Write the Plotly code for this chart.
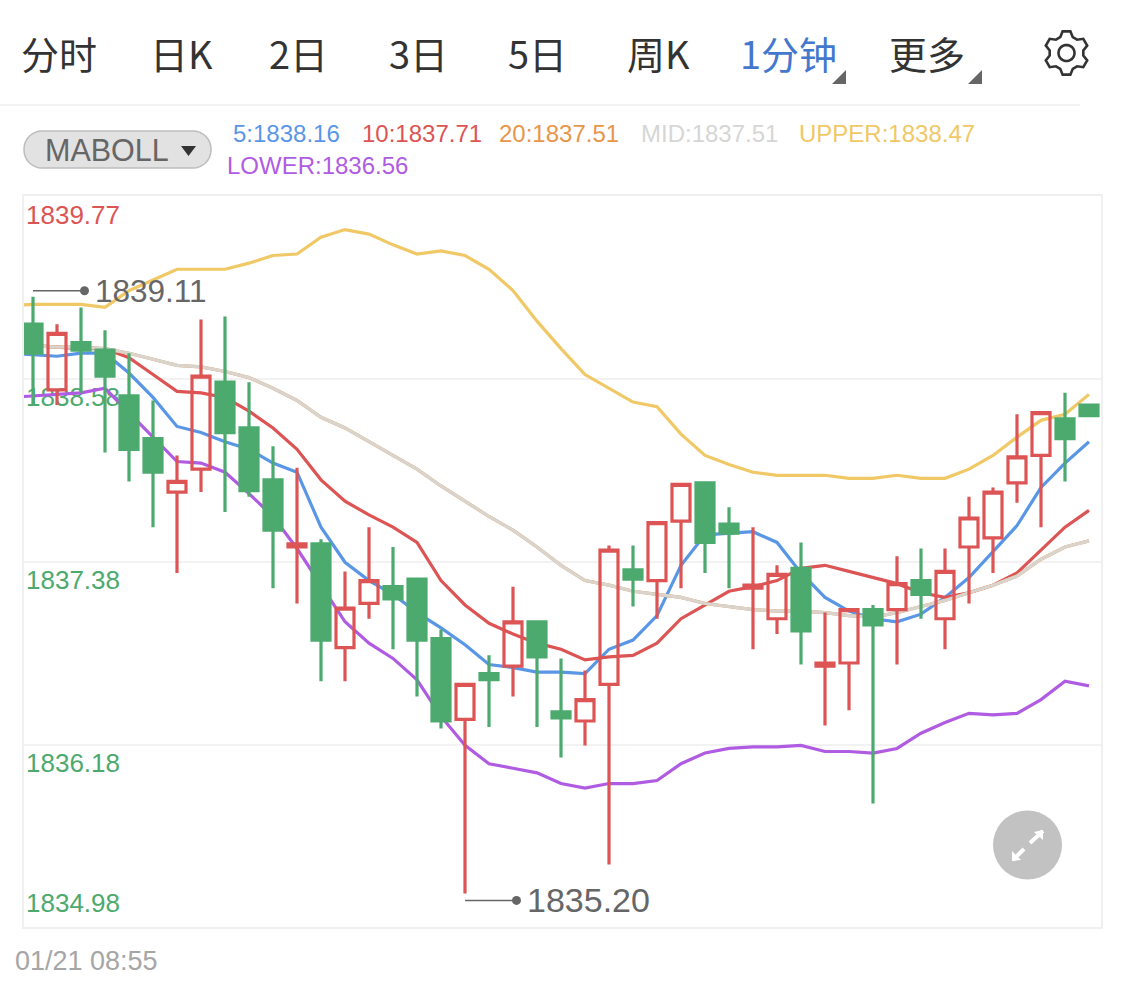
# -*- coding: utf-8 -*-
import math
import plotly.graph_objects as go

W, H = 1125, 986
PLOT_L, PLOT_R, PLOT_T, PLOT_B = 24, 1101, 196, 927

RED = '#DC5454'
GREEN = '#4CAA6E'
BLUE = '#5A96E6'
ORANGE = '#E8964A'
BEIGE = '#D9D4CD'
YELLOW = '#F0C866'
PURPLE = '#B05CE2'
GREY = '#666666'
CJK = '"Noto Sans CJK SC", "Liberation Sans", sans-serif'
LATIN = '"Liberation Sans", Arial, sans-serif'

# velas de 1 minuto
opens = [1838.93, 1838.50, 1838.81, 1838.76, 1838.46, 1838.18, 1837.83, 1837.98, 1838.55,
         1838.25, 1837.91, 1837.47, 1837.49, 1836.81, 1837.10, 1837.21, 1837.26, 1836.87,
         1836.34, 1836.64, 1836.69, 1836.98, 1836.39, 1836.33, 1836.57, 1837.32, 1837.25,
         1837.64, 1837.89, 1837.62, 1837.20, 1837.00, 1837.33, 1836.69, 1836.71, 1837.06,
         1837.06, 1837.25, 1837.00, 1837.47, 1837.53, 1837.89, 1838.07, 1838.31, 1838.40]
highs = [1839.11, 1838.93, 1839.04, 1838.89, 1838.74, 1838.43, 1838.07, 1838.96, 1838.98,
         1838.55, 1838.13, 1837.99, 1837.52, 1837.31, 1837.60, 1837.47, 1837.26, 1836.93,
         1836.57, 1836.76, 1837.21, 1836.98, 1836.74, 1836.66, 1837.48, 1837.48, 1837.63,
         1837.88, 1837.89, 1837.73, 1837.60, 1837.35, 1837.50, 1837.04, 1837.07, 1837.09,
         1837.41, 1837.46, 1837.46, 1837.80, 1837.86, 1838.34, 1838.35, 1838.48, 1838.40]
lows = [1838.40, 1838.40, 1838.48, 1838.09, 1837.90, 1837.60, 1837.30, 1837.83, 1837.70,
        1837.80, 1837.20, 1837.10, 1836.59, 1836.59, 1837.00, 1836.80, 1836.49, 1836.28,
        1835.20, 1836.29, 1836.49, 1836.29, 1836.09, 1836.17, 1835.39, 1837.08, 1837.00,
        1837.20, 1837.30, 1837.20, 1836.80, 1836.90, 1836.70, 1836.30, 1836.40, 1835.79,
        1836.70, 1837.00, 1836.80, 1837.10, 1837.30, 1837.76, 1837.60, 1837.90, 1838.33]
closes = [1838.74, 1838.87, 1838.76, 1838.59, 1838.11, 1837.96, 1837.90, 1838.59, 1838.22,
          1837.84, 1837.58, 1837.49, 1836.86, 1837.07, 1837.25, 1837.13, 1836.86, 1836.33,
          1836.57, 1836.60, 1836.98, 1836.75, 1836.35, 1836.47, 1837.45, 1837.26, 1837.63,
          1837.88, 1837.50, 1837.56, 1837.22, 1837.29, 1836.92, 1836.71, 1837.06, 1836.96,
          1837.23, 1837.16, 1837.31, 1837.66, 1837.83, 1838.06, 1838.35, 1838.18, 1838.33]

# indicadores: el primer valor es del minuto anterior a la primera vela
ma5 = [1838.74, 1838.73, 1838.72, 1838.74, 1838.74, 1838.61, 1838.45, 1838.26, 1838.22, 1838.16,
       1838.11, 1838.02, 1837.96, 1837.60, 1837.37, 1837.25, 1837.16, 1837.04, 1836.94, 1836.83,
       1836.70, 1836.68, 1836.65, 1836.65, 1836.64, 1836.80, 1836.86, 1837.02, 1837.35, 1837.55,
       1837.56, 1837.57, 1837.50, 1837.30, 1837.14, 1837.05, 1837.00, 1836.98, 1837.03, 1837.14,
       1837.27, 1837.44, 1837.61, 1837.86, 1838.02, 1838.16]
ma10 = [1838.79, 1838.79, 1838.78, 1838.77, 1838.77, 1838.71, 1838.60, 1838.49, 1838.48, 1838.45,
        1838.36, 1838.25, 1838.11, 1837.91, 1837.77, 1837.68, 1837.60, 1837.50, 1837.25, 1837.09,
        1836.97, 1836.90, 1836.84, 1836.80, 1836.73, 1836.75, 1836.76, 1836.84, 1837.00, 1837.09,
        1837.18, 1837.21, 1837.25, 1837.33, 1837.35, 1837.31, 1837.27, 1837.23, 1837.17, 1837.14,
        1837.17, 1837.22, 1837.30, 1837.45, 1837.60, 1837.71]
mid = [1838.79, 1838.79, 1838.78, 1838.78, 1838.77, 1838.74, 1838.70, 1838.66, 1838.65, 1838.62,
       1838.58, 1838.51, 1838.43, 1838.32, 1838.25, 1838.16, 1838.07, 1837.98, 1837.87, 1837.77,
       1837.67, 1837.58, 1837.47, 1837.35, 1837.25, 1837.22, 1837.18, 1837.16, 1837.14, 1837.10,
       1837.08, 1837.06, 1837.05, 1837.05, 1837.04, 1837.02, 1837.01, 1837.04, 1837.08, 1837.12,
       1837.17, 1837.22, 1837.28, 1837.39, 1837.47, 1837.51]
ma20 = list(mid)
upper = [1839.05, 1839.06, 1839.06, 1839.06, 1839.04, 1839.15, 1839.22, 1839.29, 1839.29, 1839.29,
         1839.33, 1839.38, 1839.39, 1839.50, 1839.55, 1839.52, 1839.45, 1839.39, 1839.41, 1839.38,
         1839.29, 1839.15, 1838.95, 1838.77, 1838.60, 1838.51, 1838.42, 1838.39, 1838.21, 1838.07,
         1838.01, 1837.96, 1837.94, 1837.94, 1837.94, 1837.92, 1837.92, 1837.94, 1837.92, 1837.92,
         1837.98, 1838.07, 1838.19, 1838.30, 1838.34, 1838.47]
lower = [1838.45, 1838.46, 1838.47, 1838.48, 1838.51, 1838.35, 1838.19, 1838.03, 1838.02, 1837.96,
         1837.82, 1837.67, 1837.46, 1837.22, 1836.98, 1836.84, 1836.74, 1836.60, 1836.36, 1836.17,
         1836.05, 1836.02, 1835.99, 1835.92, 1835.89, 1835.92, 1835.92, 1835.94, 1836.05, 1836.12,
         1836.15, 1836.16, 1836.16, 1836.17, 1836.13, 1836.13, 1836.12, 1836.15, 1836.25, 1836.32,
         1836.38, 1836.37, 1836.38, 1836.47, 1836.59, 1836.56]

# eje de precios
price_top, price_bottom = 1839.77, 1834.98
grid_prices = [1838.57, 1837.37, 1836.17]
tick_prices = [1839.77, 1838.58, 1837.38, 1836.18, 1834.98]
tick_labels = ['1839.77', '1838.58', '1837.38', '1836.18', '1834.98']

tabs = ['分时', '日K', '2日', '3日', '5日', '周K', '1分钟', '更多']
legend_row = ['5:1838.16', '10:1837.71', '20:1837.51', 'MID:1837.51', 'UPPER:1838.47', 'LOWER:1836.56']
date_label = '01/21 08:55'

candle_x = list(range(len(closes)))
line_x = list(range(-1, len(closes)))
x_range = [(PLOT_L - 33) / 24, (PLOT_R - 33) / 24]
tick_label_x = (73 - 33) / 24


def fx(x):
    return x / W


def fy(y):
    return 1 - y / H


def text(s, x, y, size, color, font=LATIN, anchor='left'):
    # texto fijo de la pagina, en pixeles
    return dict(text=s, x=fx(x), y=fy(y), xref='paper', yref='paper', showarrow=False,
                xanchor=anchor, yanchor='middle', font=dict(size=size, color=color, family=font),
                borderpad=0, borderwidth=0)


def box(path, fill=None, line=None, width=0):
    return dict(type='path', path=path, xref='paper', yref='paper', layer='above',
                fillcolor=fill if fill else 'rgba(0,0,0,0)',
                line=dict(color=line if line else 'rgba(0,0,0,0)', width=width))


def poly(points, close=True):
    p = 'M ' + ' L '.join('%.5f %.5f' % (fx(a), fy(b)) for a, b in points)
    return p + (' Z' if close else '')


def rounded(x0, y0, x1, y1, r):
    pts = []
    for cx, cy, a0 in [(x1 - r, y0 + r, -90), (x1 - r, y1 - r, 0), (x0 + r, y1 - r, 90), (x0 + r, y0 + r, 180)]:
        for k in range(9):
            a = math.radians(a0 + k * 90 / 8)
            pts.append((cx + r * math.cos(a), cy + r * math.sin(a)))
    return poly(pts)


def gear(cx, cy, r_out, r_in, teeth=6):
    pts = []
    step = 360 / teeth
    for t in range(teeth):
        a = t * step - 90
        for da, r in [(-step * 0.36, r_in), (-step * 0.17, r_out), (step * 0.17, r_out), (step * 0.36, r_in)]:
            pts.append((cx + r * math.cos(math.radians(a + da)), cy + r * math.sin(math.radians(a + da))))
    return poly(pts)


def circle(cx, cy, r):
    return poly([(cx + r * math.cos(math.radians(k * 10)), cy + r * math.sin(math.radians(k * 10))) for k in range(36)])


fig = go.Figure()

# etiquetas del eje, por debajo de las velas (el marcador invisible las separa de la linea)
fig.add_trace(go.Scatter(x=[tick_label_x] * len(tick_prices), y=tick_prices, mode='markers+text', text=tick_labels,
                         marker=dict(size=12, opacity=0),
                         textposition=['bottom center', 'bottom center', 'bottom center', 'bottom center', 'top center'],
                         textfont=dict(size=26, color=[RED, GREEN, GREEN, GREEN, GREEN], family=LATIN),
                         cliponaxis=False, showlegend=False, hoverinfo='skip'))

for name, vals, color in [('MA5', ma5, BLUE), ('MA10', ma10, RED), ('MA20', ma20, ORANGE), ('MID', mid, BEIGE),
                          ('UPPER', upper, YELLOW), ('LOWER', lower, PURPLE)]:
    fig.add_trace(go.Scatter(x=line_x, y=vals, mode='lines', name=name, line=dict(color=color, width=3.2),
                             showlegend=False, hoverinfo='skip'))

# las velas van en ejes superpuestos para quedar sobre las lineas
fig.add_trace(go.Candlestick(x=candle_x, open=opens, high=highs, low=lows, close=closes,
                             xaxis='x2', yaxis='y2', whiskerwidth=0, showlegend=False,
                             increasing=dict(line=dict(color=RED, width=3.2), fillcolor='rgba(0,0,0,0)'),
                             decreasing=dict(line=dict(color=GREEN, width=3.2), fillcolor=GREEN)))

notes = []
shapes = []

# pestañas
for s, x, color in zip(tabs, [21, 150, 269, 389, 508, 627, 740, 889],
                       ['#333333'] * 6 + ['#4478CC', '#333333']):
    notes.append(text(s, x, 53, 38, color, font=CJK))
for x in [846, 982]:
    shapes.append(box(poly([(x, 70), (x, 84), (x - 14, 84)]), fill='#666666'))
shapes.append(box(gear(1066.5, 53, 22, 17), line='#333333', width=2.6))
shapes.append(box(circle(1066.5, 53, 8), line='#333333', width=2.6))
shapes.append(dict(type='line', xref='paper', yref='paper', x0=0, x1=fx(1080), y0=fy(105), y1=fy(105),
                   line=dict(color='#F2F2F2', width=2)))

# selector de indicador y leyenda
shapes.append(box(rounded(24, 131, 211, 168, 18), fill='#E2E2E2', line='#BDBDBD', width=1.5))
notes.append(text('MABOLL', 45, 150, 30.5, GREY))
shapes.append(box(poly([(181, 146), (196, 146), (188.5, 156)]), fill='#333333'))
for s, x, y, color in zip(legend_row, [233, 362, 499, 641, 799, 227], [134, 134, 134, 134, 134, 166],
                          [BLUE, RED, ORANGE, '#D6D6D6', YELLOW, PURPLE]):
    notes.append(text(s, x, y, 24, color))
notes.append(text(date_label, 15, 961, 27, '#A6A6A6'))

# maximo y minimo de la ventana
for value, offset, size in [(max(highs), 6, 31.5), (min(lows), -7, 34)]:
    i = (highs if offset > 0 else lows).index(value)
    shapes.append(dict(type='line', xref='x', yref='y', xsizemode='pixel', ysizemode='pixel', xanchor=i, yanchor=value,
                       x0=0, x1=51, y0=offset, y1=offset, line=dict(color=GREY, width=1.5)))
    shapes.append(dict(type='circle', xref='x', yref='y', xsizemode='pixel', ysizemode='pixel', xanchor=i, yanchor=value,
                       x0=47, x1=56, y0=offset - 4.5, y1=offset + 4.5, fillcolor=GREY, line=dict(width=0)))
    notes.append(dict(text='%.2f' % value, x=i, y=value, xref='x', yref='y', showarrow=False, xanchor='left',
                      yanchor='middle', xshift=62, yshift=offset, borderpad=0, borderwidth=0,
                      font=dict(size=size, color=GREY, family=LATIN)))

# boton de pantalla completa
shapes.append(box(circle(1027.5, 845, 34.5), fill='#C2C2C2'))
shapes.append(box(poly([(1043, 831), (1030, 843)], close=False), line='white', width=4))
shapes.append(box(poly([(1043, 830), (1043, 840), (1034, 832)]), fill='white'))
shapes.append(box(poly([(1024, 849), (1013, 860)], close=False), line='white', width=4))
shapes.append(box(poly([(1012, 861), (1012, 851), (1021, 860)]), fill='white'))

axis_style = dict(showgrid=False, zeroline=False, showticklabels=False, ticks='', fixedrange=True)
fig.update_layout(
    width=W, height=H, margin=dict(l=0, r=0, t=0, b=0), paper_bgcolor='white', plot_bgcolor='white',
    showlegend=False, boxmode='overlay', boxgap=0.25, boxgroupgap=0,
    annotations=notes, shapes=shapes,
    xaxis=dict(domain=[fx(PLOT_L), fx(PLOT_R)], range=x_range, showline=True, mirror=True, linecolor='#F0F0F0',
               linewidth=1.5, **axis_style),
    yaxis=dict(domain=[fy(PLOT_B), fy(PLOT_T)], range=[price_bottom, price_top], tickvals=grid_prices,
               showline=True, mirror=True, linecolor='#F0F0F0', linewidth=1.5,
               showgrid=True, gridcolor='#F2F2F2', gridwidth=2, zeroline=False, showticklabels=False, ticks='',
               fixedrange=True),
    xaxis2=dict(overlaying='x', anchor='y2', range=x_range, visible=False, rangeslider=dict(visible=False),
                fixedrange=True),
    yaxis2=dict(overlaying='y', anchor='x2', range=[price_bottom, price_top], visible=False, fixedrange=True),
)

fig.write_html('out.html', config={'displayModeBar': False},
               post_script="document.body.style.margin='0';")
